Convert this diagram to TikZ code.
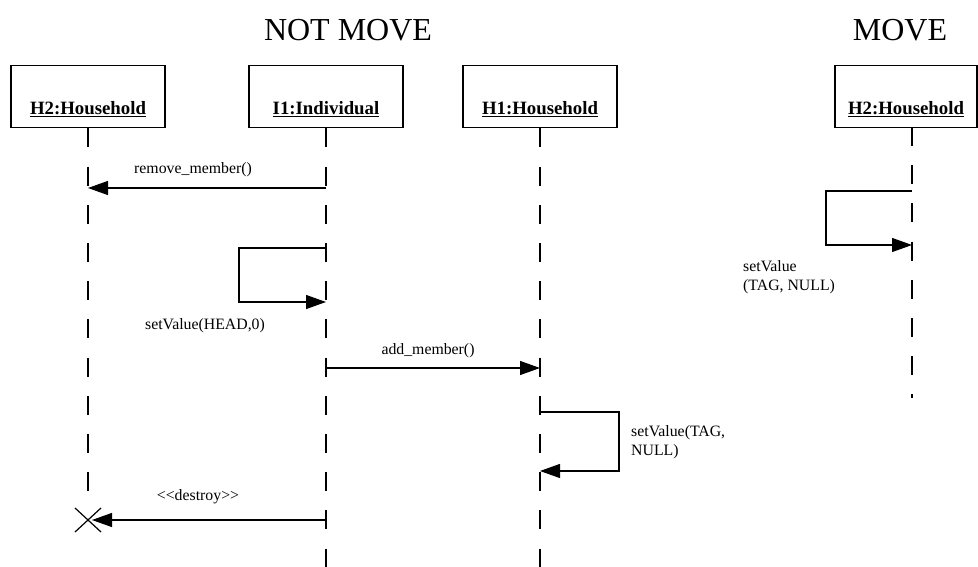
\documentclass[tikz,border=0pt]{standalone}
\usepackage{fontspec}
\setmainfont{Liberation Serif}
\usetikzlibrary{arrows.meta}

\begin{document}
\begin{tikzpicture}[x=1pt,y=-1pt,
  obj/.style={draw,line width=1.4pt,minimum width=154pt,text height=41pt,text depth=5pt,inner ysep=8pt,anchor=north,font=\fontsize{18.8}{22}\selectfont\bfseries},
  life/.style={line width=1.3pt,dash pattern=on 19pt off 19.2pt},
  msg/.style={line width=1.2pt,-{Triangle[length=20pt,width=14pt]}},
  lbl/.style={inner sep=0pt,font=\fontsize{15.8}{19}\selectfont},
  title/.style={inner sep=0pt,font=\fontsize{32}{36}\selectfont}]
  \useasboundingbox (0,0) rectangle (978,567);
  % headings
  \node[title] (nm) at (348,30) {NOT MOVE};
  \node[title] (mv) at (900,30) {MOVE};
  % objects
  \node[obj] (H2) at (88,65) {\underline{H2:Household}};
  \node[obj] (I1) at (326,65) {\underline{I1:Individual}};
  \node[obj] (H1) at (540,65) {\underline{H1:Household}};
  \node[obj,minimum width=142pt] (H2m) at (906,65) {\underline{H2:Household}};
  % lifelines
  \coordinate (h2end) at (88,505);
  \coordinate (i1end) at (326,567);
  \coordinate (h1end) at (540,567);
  \coordinate (h2mtop) at (912,127);
  \coordinate (h2mend) at (912,398);
  \draw[life] (H2) -- (h2end);
  \draw[life] (I1) -- (i1end);
  \draw[life] (H1) -- (h1end);
  \draw[life] (h2mtop) -- (h2mend);
  % messages
  \coordinate (rm1) at (326,188);
  \coordinate (rm2) at (88,188);
  \draw[msg] (rm1) -- (rm2);
  \node[lbl] (lrm) at (193,170) {remove\_member()};
  \coordinate (sv1) at (326,248);
  \coordinate (sv2) at (326,302);
  \draw[msg] (sv1) -- ++(-87,0) |- (sv2);
  \node[lbl] (lsv) at (205,326) {setValue(HEAD,0)};
  \coordinate (am1) at (326,368);
  \coordinate (am2) at (540,368);
  \draw[msg] (am1) -- (am2);
  \node[lbl] (lam) at (428,351) {add\_member()};
  \coordinate (st1) at (540,412);
  \coordinate (st2) at (540,471);
  \draw[msg] (st1) -- ++(79,0) |- (st2);
  \node[lbl,anchor=west,align=left] (lst) at (631,442) {setValue(TAG,\\NULL)};
  % destruction
  \coordinate (h2x) at (88,520);
  \coordinate (ds1) at (326,520);
  \coordinate (ds2) at (92,520);
  \draw[msg] (ds1) -- (ds2);
  \node[lbl] (lds) at (198,497) {{<}{<}destroy{>}{>}};
  \draw[line width=1.2pt] (h2x) +(-13,-12) -- +(13,12) +(-13,12) -- +(13,-12);
  \coordinate (mv1) at (912,191);
  \coordinate (mv2) at (912,245);
  \draw[msg] (mv1) -- ++(-86,0) |- (mv2);
  \node[lbl,anchor=west,align=left] (lmv) at (743,277) {setValue\\(TAG, NULL)};
\end{tikzpicture}
\end{document}
